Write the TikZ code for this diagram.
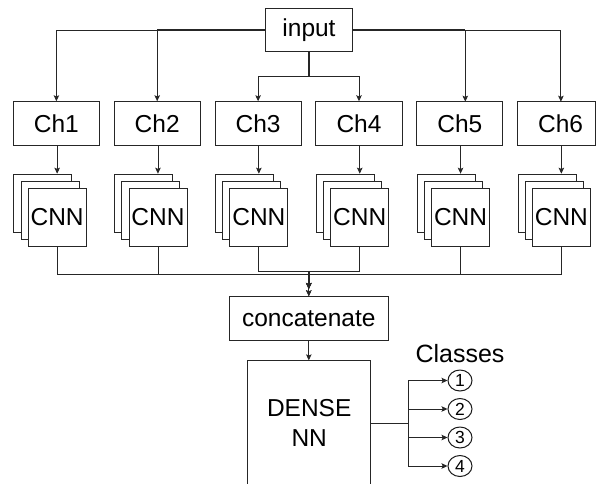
\documentclass[tikz,border=0pt]{standalone}
\usepackage{fontspec}
\setmainfont{Liberation Sans}
\usetikzlibrary{arrows.meta,shapes.geometric}
\begin{document}
\begin{tikzpicture}[x=1pt,y=-1pt,
  line/.style={draw=black!85, line width=0.9pt},
  arr/.style={line, -{Stealth[length=6pt,width=5.5pt,inset=1.2pt]}},
  shared/.style={draw=black!85, line width=1.5pt},
  box/.style={draw=black!85, line width=0.9pt, fill=white, inner sep=0pt, font=\fontsize{24.5}{30}\selectfont},
  chbox/.style={box, minimum width=86.2pt, minimum height=43.4pt},
  cnnbox/.style={box, minimum width=58pt, minimum height=58pt, anchor=north west},
  cls/.style={ellipse, draw=black!90, line width=1pt, minimum width=24pt, minimum height=21pt, inner sep=0pt, font=\fontsize{17.5}{18}\selectfont}
]
\path[use as bounding box, fill=white] (0,0) rectangle (596,483);

% top row
\node[chbox] (input) at (309,30) {input};
\foreach \i/\x in {1/56.4,2/157.2,3/258.1,4/359.0,5/459.8}
  \node[chbox] (ch\i) at (\x,123.4) {Ch\i};
\node[chbox, minimum width=77.6pt] (ch6) at (556.3,123.4) {\hspace*{8.6pt}Ch6};
\coordinate (ch5in) at (465.3,101.7);
\coordinate (ch6in) at (560.9,101.7);
\coordinate (split) at (309,76.7);

% CNN stacks
\foreach \i/\l in {1/13.3,2/114.1,3/215.0,4/315.9,5/416.7,6/517.5}{
  \node[cnnbox] (cnn\i a) at (\l,173.7) {};
  \node[cnnbox] (cnn\i b) at (\l+7.2,180.9) {};
  \node[cnnbox] (cnn\i) at (\l+14.4,188.1) {CNN};
}

% lower part
\node[box, minimum width=159pt, minimum height=43.3pt] (concat) at (308.8,318.3) {concatenate};
\node[box, minimum width=123pt, minimum height=125pt, align=center] (dense) at (309.2,423.3) {DENSE\\NN};
\coordinate (outj) at (308.8,274.5);
\coordinate (inj) at (308.8,271.3);
\coordinate (outend) at (308.8,289);

\node[font=\fontsize{25}{30}\selectfont, inner sep=0pt] (classes) at (460,353.4) {Classes};
\foreach \i/\y in {1/380.5,2/409,3/437.5,4/466}
  \node[cls] (k\i) at (460,\y) {\i};
\coordinate (bj) at (408.5,423.3);

% input -> channels
\draw[arr] (input.west) -| (ch1.north);
\draw[arr] (input.west) -| (ch2.north);
\draw[arr] (input.south) -- (split) -| (ch3.north);
\draw[arr] (input.south) -- (split) -| (ch4.north);
\draw[arr] (input.east) -| (ch5in);
\draw[arr] (input.east) -| (ch6in);
\draw[shared] (input.west) -- (ch2.north |- input.west);
\draw[shared] (input.east) -- (ch5in |- input.east);
\draw[shared] (input.south) -- (split);

% channels -> CNN
\foreach \i in {1,...,6}
  \draw[arr] (cnn\i.north |- ch\i.south) -- (cnn\i.north |- cnn\i a.north);

% CNN -> concatenate
\foreach \i in {1,2,5,6}
  \draw[arr] (cnn\i.south) |- (outj) -- (outend);
\foreach \i in {3,4}
  \draw[arr] (cnn\i.south) |- (inj) -- (concat.north);
\draw[shared] (cnn2.south |- outj) -- (cnn5.south |- outj);
\draw[shared] (inj) -- (308.8,284);

% concatenate -> dense
\draw[arr] (concat.south) -- (concat.south |- dense.north);

% dense -> classes
\foreach \i in {1,...,4}
  \draw[arr] (dense.east) -- (bj) |- (k\i.west);
\draw[shared] (dense.east) -- (bj);
\draw[shared] (bj |- k2.west) -- (bj |- k3.west);
\end{tikzpicture}
\end{document}
